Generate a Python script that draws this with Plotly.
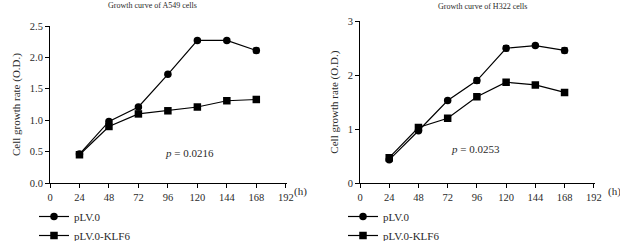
import plotly.graph_objects as go

hours = [24, 48, 72, 96, 120, 144, 168]

a549_ctrl = [0.46, 0.98, 1.21, 1.73, 2.27, 2.27, 2.11]
a549_ctrl_err = [0.01, 0.01, 0.01, 0.01, 0.01, 0.01, 0.04]
a549_klf6 = [0.45, 0.90, 1.10, 1.15, 1.21, 1.31, 1.33]
a549_klf6_err = [0.01, 0.01, 0.01, 0.01, 0.01, 0.04, 0.02]

h322_ctrl = [0.43, 0.97, 1.53, 1.90, 2.50, 2.55, 2.46]
h322_ctrl_err = [0.01, 0.01, 0.02, 0.05, 0.05, 0.02, 0.05]
h322_klf6 = [0.47, 1.03, 1.20, 1.60, 1.87, 1.82, 1.68]
h322_klf6_err = [0.01, 0.02, 0.02, 0.03, 0.05, 0.03, 0.03]

x_ticks = [0, 24, 48, 72, 96, 120, 144, 168, 192]
series_names = ["pLV.0", "pLV.0-KLF6"]
titles = ["Growth curve of A549 cells", "Growth curve of H322 cells"]
p_texts = ["0.0216", "0.0253"]

FONT = "Liberation Serif"
TXT = "#2a2a2a"
W, H = 620, 241

def px(x):
    return x / W

def py(y):
    return 1 - y / H

fig = go.Figure()

def add(x, y, err, name, symbol, xa, ya, legend, size):
    fig.add_trace(go.Scatter(
        x=x, y=y, mode="lines+markers", name=name,
        xaxis=xa, yaxis=ya, legend=legend,
        line=dict(color="black", width=1.2),
        marker=dict(symbol=symbol, size=size, color="black"),
        error_y=dict(type="data", array=err, visible=True, color="black",
                     thickness=1, width=3),
    ))

add(hours, a549_ctrl, a549_ctrl_err, series_names[0], "circle", "x", "y", "legend", 7.5)
add(hours, a549_klf6, a549_klf6_err, series_names[1], "square", "x", "y", "legend", 7.5)
add(hours, h322_ctrl, h322_ctrl_err, series_names[0], "circle", "x2", "y2", "legend2", 7.5)
add(hours, h322_klf6, h322_klf6_err, series_names[1], "square", "x2", "y2", "legend2", 7.5)

def xaxis(domain):
    return dict(domain=domain, range=[0, 193], tickvals=x_ticks, ticks="outside",
                ticklen=4, tickcolor="black", showline=True, linecolor="black",
                linewidth=1, showgrid=False, zeroline=False, automargin=False,
                tickfont=dict(family=FONT, size=10.5, color=TXT), fixedrange=True)

def yaxis(domain, rng, dtick, fmt, anchor):
    return dict(domain=domain, range=rng, dtick=dtick, tickformat=fmt, ticks="outside",
                ticklen=4, tickcolor="black", showline=True, linecolor="black",
                linewidth=1, showgrid=False, zeroline=False, anchor=anchor,
                automargin=False, fixedrange=True,
                tickfont=dict(family=FONT, size=10.5, color=TXT),
                title=dict(text="Cell growth rate (O.D.)", standoff=6,
                           font=dict(family=FONT, size=11, color=TXT)))

leg_font = dict(family=FONT, size=11, color=TXT)
fig.update_layout(
    width=W, height=H,
    margin=dict(l=0, r=0, t=0, b=0, autoexpand=False),
    paper_bgcolor="white", plot_bgcolor="white",
    xaxis=dict(**xaxis([px(50), px(287)]), anchor="y"),
    yaxis=yaxis([py(183), py(26)], [0, 2.5], 0.5, ".1f", "x"),
    xaxis2=dict(**xaxis([px(360), px(595)]), anchor="y2"),
    yaxis2=yaxis([py(183), py(21.3)], [0, 3], 1, "d", "x2"),
    legend=dict(x=px(34), y=py(250), xanchor="left", yanchor="bottom",
                font=leg_font, itemwidth=30, bgcolor="rgba(0,0,0,0)",
                tracegroupgap=0),
    legend2=dict(x=px(343), y=py(250), xanchor="left", yanchor="bottom",
                 font=leg_font, itemwidth=30, bgcolor="rgba(0,0,0,0)",
                 tracegroupgap=0),
    showlegend=True,
)

def note(text, x, y, size, xref="paper", yref="paper"):
    return dict(text=text, x=x, y=y, xref=xref, yref=yref, showarrow=False,
                xanchor="center", yanchor="middle",
                font=dict(family=FONT, size=size, color=TXT))

annotations = [
    note(titles[0], px(152), py(5.5), 8),
    note(titles[1], px(482), py(6.5), 8),
    note("<i>p</i> = " + p_texts[0], 114, 0.48, 11, "x", "y"),
    note("<i>p</i> = " + p_texts[1], 95, 0.64, 11, "x2", "y2"),
    note("(h)", px(300), py(191), 11),
    note("(h)", px(614), py(191), 11),
]
fig.update_layout(annotations=annotations)

fig.write_html("out.html", post_script="document.body.style.margin='0px';",
               config={"displayModeBar": False})
